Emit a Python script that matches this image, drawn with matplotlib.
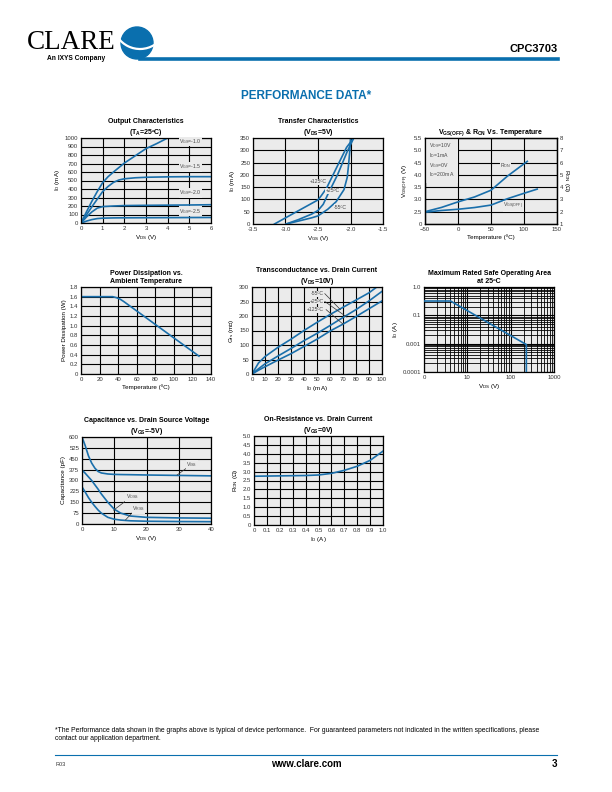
import numpy as np
import matplotlib
matplotlib.use("Agg")
import matplotlib.pyplot as plt
from matplotlib.patches import Circle, Arc
from matplotlib.lines import Line2D
from matplotlib.ticker import LogLocator, NullFormatter

plt.rcParams['font.family'] = ['Liberation Sans', 'DejaVu Sans']
plt.rcParams['mathtext.default'] = 'regular'

BLUE = '#1a6fab'
HEAD = '#0a6fae'
BG = '#ebebeb'

# ---- Output characteristics (Vds in V, Id in mA) ----
vds_m10 = [0, 0.25, 0.5, 0.75, 1.0, 1.25, 1.5, 2.0, 2.5, 3.0, 3.5, 4.0]
id_m10 = [0, 130, 255, 370, 475, 545, 600, 705, 790, 875, 935, 1000]
vds_m15 = [0, 0.25, 0.5, 0.75, 1.0, 1.25, 1.5, 1.75, 2.0, 2.5, 3, 4, 5, 6]
id_m15 = [0, 95, 190, 280, 370, 430, 478, 506, 520, 532, 538, 543, 545, 545]
vds_m20 = [0, 0.25, 0.5, 0.75, 1.0, 1.5, 2, 3, 4, 5, 6]
id_m20 = [0, 70, 130, 175, 193, 200, 205, 208, 210, 212, 215]
vds_m25 = [0, 0.25, 0.5, 0.75, 1.0, 1.5, 2, 3, 4, 5, 6]
id_m25 = [0, 22, 40, 52, 57, 60, 61, 62, 63, 64, 65]

# ---- Transfer characteristics (Vgs in V, Id in mA) ----
vgs_125 = [-3.17, -2.85, -2.5, -2.45, -2.37, -2.2, -2.06, -1.95]
id_125 = [0, 47, 98, 115, 145, 237, 312, 350]
vgs_25 = [-2.99, -2.8, -2.6, -2.5, -2.42, -2.35, -2.2, -2.05, -1.95]
id_25 = [0, 18, 40, 55, 80, 120, 200, 295, 350]
vgs_m55 = [-2.99, -2.8, -2.6, -2.5, -2.35, -2.22, -2.1, -2.05, -2.03, -2.01, -2.0]
id_m55 = [0, 12, 25, 33, 60, 91, 140, 190, 240, 300, 350]

# ---- Vgs(off) & Ron vs temperature ----
temp_ron = [-50, -25, 0, 25, 50, 75, 105]
ron_temp = [2.0, 2.35, 2.8, 3.2, 3.75, 4.9, 6.1]
temp_voff = [-50, -25, 0, 25, 50, 75, 100, 120]
voff_temp = [2.48, 2.55, 2.6, 2.67, 2.77, 3.03, 3.25, 3.42]

# ---- Power dissipation ----
temp_pd = [0, 34, 38, 42, 46, 127]
pd_w = [1.6, 1.6, 1.58, 1.55, 1.5, 0.37]

# ---- Transconductance ----
id_gfs_m55 = [0, 5, 10, 20, 30, 40, 50, 60, 70, 80, 90, 96]
gfs_m55 = [0, 38, 60, 92, 120, 150, 178, 205, 230, 255, 280, 300]
id_gfs = [0, 5, 10, 20, 30, 40, 50, 60, 70, 80, 90, 100]
gfs_25 = [0, 18, 35, 62, 88, 115, 140, 167, 195, 222, 252, 285]
gfs_125 = [0, 13, 25, 48, 70, 95, 120, 148, 172, 198, 225, 252]

# ---- Safe operating area ----
vds_soa = [1, 4.1, 230, 230]
id_soa = [0.32, 0.32, 0.0093, 0.001]
soa_yticks = [1, 0.1, 0.01, 0.001]
soa_ylabels = ['1.0', '0.1', '0.001', '0.0001']
soa_xticks = [1, 10, 100, 1000]
soa_xlabels = ['0', '10', '100', '1000']

# ---- Capacitance ----
vds_c = [0, 1, 2, 3, 4, 5, 6, 8, 10, 12, 15, 20, 30, 40]
ciss = [600, 540, 470, 420, 385, 362, 352, 345, 342, 341, 340, 338, 335, 332]
coss = [372, 350, 325, 300, 270, 240, 207, 150, 102, 75, 55, 46, 42, 40]
crss = [256, 220, 182, 150, 122, 96, 75, 46, 33, 27, 22, 19, 17, 16]

# ---- On-resistance vs drain current ----
id_a = [0, 0.1, 0.2, 0.3, 0.4, 0.5, 0.6, 0.7, 0.8, 0.9, 1.0]
ron_id = [2.74, 2.75, 2.76, 2.77, 2.78, 2.81, 2.9, 3.07, 3.3, 3.63, 4.15]


fig = plt.figure(figsize=(6.12, 7.92), dpi=100)


def px_axes(l, t, r, b):
    return fig.add_axes([l / 612, 1 - b / 792, (r - l) / 612, (b - t) / 792])


def style(ax, title, xlabel, ylabel):
    ax.set_facecolor(BG)
    ax.grid(True, which='major', color='black', lw=0.8)
    ax.set_axisbelow(True)
    ax.tick_params(length=0, labelsize=4.3, pad=2, colors='#333333')
    for s in ax.spines.values():
        s.set_linewidth(0.9)
    ax.set_title(title, fontsize=5, fontweight='bold', pad=3, linespacing=1.25)
    ax.set_xlabel(xlabel, fontsize=4.5, labelpad=1.5)
    ax.set_ylabel(ylabel, fontsize=4.5, labelpad=2)


def label(ax, x, y, s, ha='center'):
    ax.text(x, y, s, fontsize=3.7, ha=ha, va='center', color='#444444', zorder=4,
            bbox=dict(fc=BG, ec='none', pad=0.3))


# 1 Output characteristics
ax = px_axes(81, 138, 211, 223)
ax.plot(vds_m10, id_m10, color=BLUE, lw=1.2)
ax.plot(vds_m15, id_m15, color=BLUE, lw=1.2)
ax.plot(vds_m20, id_m20, color=BLUE, lw=1.2)
ax.plot(vds_m25, id_m25, color=BLUE, lw=1.2)
ax.set_xlim(0, 6)
ax.set_ylim(0, 1000)
ax.set_xticks(range(7))
ax.set_yticks(range(0, 1001, 100))
style(ax, 'Output Characteristics\n(T$_A$=25ºC)', 'V$_{DS}$ (V)', 'I$_D$ (mA)')
label(ax, 5.05, 960, 'V$_{GS}$=-1.0')
label(ax, 5.05, 663, 'V$_{GS}$=-1.5')
label(ax, 5.05, 353, 'V$_{GS}$=-2.0')
label(ax, 5.05, 137, 'V$_{GS}$=-2.5')

# 2 Transfer characteristics
ax = px_axes(253, 138, 383, 224)
ax.plot(vgs_125, id_125, color=BLUE, lw=1.2)
ax.plot(vgs_25, id_25, color=BLUE, lw=1.2)
ax.plot(vgs_m55, id_m55, color=BLUE, lw=1.2)
ax.set_xlim(-3.5, -1.5)
ax.set_ylim(0, 350)
ax.set_xticks([-3.5, -3.0, -2.5, -2.0, -1.5])
ax.set_xticklabels(['-3.5', '-3.0', '-2.5', '-2.0', '-1.5'])
ax.set_yticks(range(0, 351, 50))
style(ax, 'Transfer Characteristics\n(V$_{DS}$=5V)', 'V$_{GS}$ (V)', 'I$_D$ (mA)')
label(ax, -2.5, 171, '+125ºC')
label(ax, -2.27, 135, '+25ºC')
label(ax, -2.15, 68, '-55ºC')

# 3 Vgs(off) & Ron vs temperature
ax = px_axes(425, 138, 557, 224)
ax.plot(temp_voff, voff_temp, color=BLUE, lw=1.2)
ax.set_xlim(-50, 150)
ax.set_ylim(2.0, 5.5)
ax.set_xticks([-50, 0, 50, 100, 150])
ax.set_yticks([2.0, 2.5, 3.0, 3.5, 4.0, 4.5, 5.0, 5.5])
ax.set_yticklabels(['0', '2.5', '3.0', '3.5', '4.0', '4.5', '5.0', '5.5'])
style(ax, 'V$_{GS(OFF)}$ & R$_{ON}$ Vs. Temperature', 'Temperature (ºC)', 'V$_{GS(OFF)}$ (V)')
ax.text(-44, 5.37, 'V$_{DS}$=10V\nI$_D$=1mA\nV$_{GS}$=0V\nI$_D$=200mA', fontsize=3.7,
        ha='left', va='top', color='#444444', linespacing=1.15, zorder=4,
        bbox=dict(fc=BG, ec='none', pad=2.5))
label(ax, 72, 4.38, 'R$_{ON}$')
label(ax, 84, 2.72, 'V$_{GS(OFF)}$')
axr = ax.twinx()
axr.plot(temp_ron, ron_temp, color=BLUE, lw=1.2)
axr.set_ylim(1, 8)
axr.set_yticks(range(1, 9))
axr.tick_params(length=0, labelsize=4.3, pad=2, colors='#333333')
axr.set_ylabel('R$_{ON}$ (Ω)', fontsize=4.5, rotation=270, labelpad=6)
for s in axr.spines.values():
    s.set_linewidth(0.9)

# 4 Power dissipation
ax = px_axes(81, 287, 211, 374)
ax.plot(temp_pd, pd_w, color=BLUE, lw=1.2)
ax.set_xlim(0, 140)
ax.set_ylim(0, 1.8)
ax.set_xticks(range(0, 141, 20))
pd_ticks = [0, 0.2, 0.4, 0.6, 0.8, 1.0, 1.2, 1.4, 1.6, 1.8]
ax.set_yticks(pd_ticks)
ax.set_yticklabels(['0', '0.2', '0.4', '0.6', '0.8', '1.0', '1.2', '1.4', '1.6', '1.8'])
style(ax, 'Power Dissipation vs.\nAmbient Temperature', 'Temperature (ºC)', 'Power Dissipation (W)')

# 5 Transconductance
ax = px_axes(252, 287, 382, 374)
ax.plot(id_gfs_m55, gfs_m55, color=BLUE, lw=1.2)
ax.plot(id_gfs, gfs_25, color=BLUE, lw=1.2)
ax.plot(id_gfs, gfs_125, color=BLUE, lw=1.2)
ax.set_xlim(0, 100)
ax.set_ylim(0, 300)
ax.set_xticks(range(0, 101, 10))
ax.set_yticks(range(0, 301, 50))
style(ax, 'Transconductance vs. Drain Current\n(V$_{DS}$=10V)', 'I$_D$ (mA)', 'G$_{fs}$ (m℧)')
label(ax, 50, 277, '-55ºC')
label(ax, 50, 250, '+25ºC')
label(ax, 49, 222, '+125ºC')
ax.plot([56, 68], [277, 222], color='#333333', lw=0.5)
ax.plot([56, 73], [250, 196], color='#333333', lw=0.5)
ax.plot([57, 70], [222, 172], color='#333333', lw=0.5)

# 6 Safe operating area
ax = px_axes(424, 287, 554, 372)
ax.plot(vds_soa, id_soa, color=BLUE, lw=1.2, zorder=3)
ax.set_xscale('log')
ax.set_yscale('log')
ax.set_xlim(1, 1000)
ax.set_ylim(0.001, 1)
ax.xaxis.set_minor_locator(LogLocator(base=10, subs=np.arange(2, 10)))
ax.yaxis.set_minor_locator(LogLocator(base=10, subs=np.arange(2, 10)))
ax.xaxis.set_minor_formatter(NullFormatter())
ax.yaxis.set_minor_formatter(NullFormatter())
ax.set_xticks(soa_xticks)
ax.set_xticklabels(soa_xlabels)
ax.set_yticks(soa_yticks)
ax.set_yticklabels(soa_ylabels)
style(ax, 'Maximum Rated Safe Operating Area\nat 25ºC', 'V$_{DS}$ (V)', 'I$_D$ (A)')
ax.grid(True, which='minor', color='black', lw=0.6)
ax.tick_params(which='minor', length=0)

# 7 Capacitance
ax = px_axes(82, 437, 211, 524)
ax.plot(vds_c, ciss, color=BLUE, lw=1.2)
ax.plot(vds_c, coss, color=BLUE, lw=1.2)
ax.plot(vds_c, crss, color=BLUE, lw=1.2)
ax.set_xlim(0, 40)
ax.set_ylim(0, 600)
ax.set_xticks(range(0, 41, 10))
ax.set_yticks(range(0, 601, 75))
style(ax, 'Capacitance vs. Drain Source Voltage\n(V$_{GS}$=-5V)', 'V$_{DS}$ (V)', 'Capacitance (pF)')
label(ax, 34, 410, 'V$_{ISS}$')
label(ax, 15.5, 186, 'V$_{OSS}$')
label(ax, 17.5, 105, 'V$_{RSS}$')
ax.plot([33, 29.5], [395, 338], color='#333333', lw=0.5)
ax.plot([14.3, 9.8], [172, 95], color='#333333', lw=0.5)
ax.plot([16, 13.5], [88, 28], color='#333333', lw=0.5)

# 8 On-resistance vs drain current
ax = px_axes(254, 436, 383, 525)
ax.plot(id_a, ron_id, color=BLUE, lw=1.2)
ax.set_xlim(0, 1.0)
ax.set_ylim(0, 5.0)
ax.set_xticks(np.round(np.arange(0, 1.01, 0.1), 1))
ax.set_xticklabels(['0', '0.1', '0.2', '0.3', '0.4', '0.5', '0.6', '0.7', '0.8', '0.9', '1.0'])
ax.set_yticks(np.round(np.arange(0, 5.01, 0.5), 1))
ax.set_yticklabels(['0', '0.5', '1.0', '1.5', '2.0', '2.5', '3.0', '3.5', '4.0', '4.5', '5.0'])
style(ax, 'On-Resistance vs. Drain Current\n(V$_{GS}$=0V)', 'I$_D$ (A)', 'R$_{ON}$ (Ω)')


# ---- page header ----
def fy(y):
    return 1 - y / 792


fig.text(27 / 612, fy(49), 'CLARE', family='Liberation Serif', fontsize=19.5, va='baseline')
fig.text(47 / 612, fy(60), 'An IXYS Company', fontsize=4.8, fontweight='bold', va='baseline')
logo = fig.add_axes([118 / 612, fy(62), 38 / 612, 36 / 792])
logo.set_xlim(118, 156)
logo.set_ylim(0, 36)
logo.set_aspect('equal')
logo.axis('off')
logo.add_patch(Circle((137, 19), 16, color=HEAD))
logo.add_patch(Arc((140, 40), 54, 54, theta1=215, theta2=330, color='white', lw=1.6))
fig.add_artist(Line2D([140 / 612, 558 / 612], [fy(59), fy(59)], color=HEAD, lw=2.6))
fig.text(558 / 612, fy(52), 'CPC3703', fontsize=8, fontweight='bold', ha='right', va='baseline')
fig.text(306 / 612, fy(99), 'PERFORMANCE DATA*', fontsize=8.5, fontweight='bold',
         color=HEAD, ha='center', va='baseline')

# ---- page footer ----
fig.text(55 / 612, fy(740), '*The Performance data shown in the graphs above is typical of device performance.  '
         'For guaranteed parameters not indicated in the written specifications, please\n'
         'contact our application department.', fontsize=4.9, va='baseline', linespacing=1.25)
fig.add_artist(Line2D([55 / 612, 557 / 612], [fy(755), fy(755)], color=HEAD, lw=0.8))
fig.text(55 / 612, fy(766), 'R03', fontsize=4, va='baseline', color='#333333')
fig.text(306 / 612, fy(767), 'www.clare.com', fontsize=7, fontweight='bold', ha='center', va='baseline')
fig.text(557 / 612, fy(767), '3', fontsize=7, fontweight='bold', ha='right', va='baseline')

fig.savefig('out.png', dpi=100)
